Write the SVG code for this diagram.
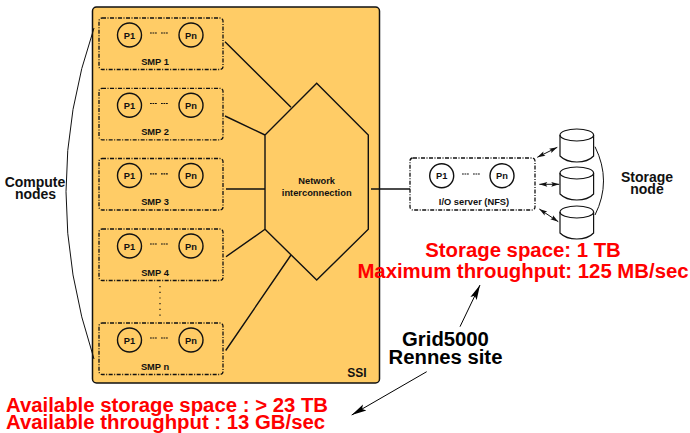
<svg xmlns="http://www.w3.org/2000/svg" width="690" height="433" viewBox="0 0 690 433">
<style>
text{font-family:"Liberation Sans",Arial,Helvetica,sans-serif;font-weight:bold;text-anchor:middle}
.s{font-size:9.3px;fill:#111}
.l{font-size:14px;fill:#111}
.r{font-size:20.35px;fill:#ff0000}
.k{font-size:20.3px;fill:#000}
.box{fill:none;stroke:#111;stroke-width:1.3;stroke-dasharray:4 1.5 1 1.5}
.cpu{fill:none;stroke:#111;stroke-width:1.4}
.dots{fill:none;stroke:#111;stroke-width:1.2;stroke-dasharray:1.8 .7}
.c{fill:none;stroke:#111;stroke-width:1.4}
.t{fill:none;stroke:#111;stroke-width:1}
.d{fill:none;stroke:#111;stroke-width:1;marker-start:url(#h2);marker-end:url(#h)}
.cyl{fill:none;stroke:#111;stroke-width:1.2}
</style>
<defs>
<marker id="h" markerUnits="userSpaceOnUse" markerWidth="10" markerHeight="8" refX="8" refY="4" orient="auto"><path d="M0 1.6L8 4 0 6.4 1.5 4z" fill="#111"/></marker>
<marker id="h2" markerUnits="userSpaceOnUse" markerWidth="10" markerHeight="8" refX="0" refY="4" orient="auto"><path d="M8 1.6L0 4 8 6.4 6.5 4z" fill="#111"/></marker>
<marker id="b" markerUnits="userSpaceOnUse" markerWidth="16" markerHeight="10" refX="15" refY="5" orient="auto"><path d="M0 1.5L15 5 0 8.5 3 5z" fill="#000"/></marker>
<g id="cylshape"><ellipse cx="576.8" cy="0" rx="16.8" ry="6"/><path d="M560 0V21Q566 27 576.8 27 588 27 593.6 21V0"/></g>
</defs>
<g id="ssi">
<rect x="92.5" y="7" width="287" height="376" rx="4" fill="#ffcc66" stroke="#111" stroke-width="1.5"/>
<text class="s" x="357" y="376.5" style="font-size:12px">SSI</text>
</g>
<g id="connectors">
<path class="c" d="M225 41.7L291 107.3M225 116L265 135M226 189H265M226 256.7L265 229.3M291 255L225.7 350.5M371 189H410"/>
<path class="t" d="M94 28Q38 190 94 359"/>
<path class="t" d="M595 146.7Q612 181 595 215"/>
<path class="d" d="M537.3 157.3L557.3 147.3"/>
<path class="d" d="M539.3 184.3H559.3"/>
<path class="d" d="M539.3 209L558.3 221.7"/>
<path class="dots" d="M160 286V320" style="stroke-dasharray:1.2 4.5"/>
<path d="M460 326.7L480 285" fill="none" stroke="#000" marker-end="url(#b)"/>
<path d="M426.7 371.7L351.7 415" fill="none" stroke="#000" marker-end="url(#b)"/>
</g>
<g id="smp1"><rect class="box" x="99" y="18" width="124" height="51.5" rx="3"/><circle class="cpu" cx="129.5" cy="35" r="12"/><circle class="cpu" cx="191" cy="35" r="12"/><path class="dots" d="M150 33H157M161 33H168"/><text class="s" x="129.5" y="38.5">P1</text><text class="s" x="191" y="38.5">Pn</text><text class="s" x="155" y="65">SMP 1</text></g>
<g id="smp2"><rect class="box" x="99" y="88.3" width="124" height="51.5" rx="3"/><circle class="cpu" cx="129.5" cy="105.3" r="12"/><circle class="cpu" cx="191" cy="105.3" r="12"/><path class="dots" d="M150 103.5H157M161 103.5H168"/><text class="s" x="129.5" y="108.8">P1</text><text class="s" x="191" y="108.8">Pn</text><text class="s" x="155" y="135">SMP 2</text></g>
<g id="smp3"><rect class="box" x="99" y="158.5" width="124" height="51.5" rx="3"/><circle class="cpu" cx="129.5" cy="175.5" r="12"/><circle class="cpu" cx="191" cy="175.5" r="12"/><path class="dots" d="M150 173.8H157M161 173.8H168"/><text class="s" x="129.5" y="179">P1</text><text class="s" x="191" y="179">Pn</text><text class="s" x="155" y="205">SMP 3</text></g>
<g id="smp4"><rect class="box" x="99" y="229" width="124" height="51.5" rx="3"/><circle class="cpu" cx="129.5" cy="246" r="12"/><circle class="cpu" cx="191" cy="246" r="12"/><path class="dots" d="M150 244H157M161 244H168"/><text class="s" x="129.5" y="249.5">P1</text><text class="s" x="191" y="249.5">Pn</text><text class="s" x="155" y="276">SMP 4</text></g>
<g id="smpn"><rect class="box" x="99" y="323" width="124" height="51.5" rx="3"/><circle class="cpu" cx="129.5" cy="340" r="12"/><circle class="cpu" cx="191" cy="340" r="12"/><path class="dots" d="M150 338H157M161 338H168"/><text class="s" x="129.5" y="343.5">P1</text><text class="s" x="191" y="343.5">Pn</text><text class="s" x="155" y="370">SMP n</text></g>
<g id="network">
<path class="c" d="M316.7 83.3L368.3 135V229.3L316.7 280 265 229.3V135z"/>
<text class="s" x="316.7" y="184">Network</text>
<text class="s" x="316.7" y="195.7">interconnection</text>
</g>
<g id="io-server"><rect class="box" x="410" y="158" width="125" height="52" rx="3"/><circle class="cpu" cx="441.7" cy="175.7" r="12"/><circle class="cpu" cx="502" cy="175.7" r="12"/><path class="dots" d="M462 174H469M473 174H480"/><text class="s" x="441.7" y="179.2">P1</text><text class="s" x="502" y="179.2">Pn</text><text class="s" x="474" y="205">I/O server (NFS)</text></g>
<g id="storage1" class="cyl"><use href="#cylshape" y="135"/></g>
<g id="storage2" class="cyl"><use href="#cylshape" y="173"/></g>
<g id="storage3" class="cyl"><use href="#cylshape" y="212"/></g>
<g id="labels">
<text class="l" x="35" y="187">Compute</text>
<text class="l" x="35.5" y="198.5">nodes</text>
<text class="l" x="647" y="182">Storage</text>
<text class="l" x="647" y="194">node</text>
<text class="r" x="523" y="257">Storage space: 1 TB</text>
<text class="r" x="523" y="278">Maximum throughput: 125 MB/sec</text>
<text class="k" x="445.5" y="345.5">Grid5000</text>
<text class="k" x="445.5" y="364">Rennes site</text>
<text class="r" x="6" y="412" style="text-anchor:start">Available storage space : &gt; 23 TB</text>
<text class="r" x="6" y="429" style="text-anchor:start">Available throughput : 13 GB/sec</text>
</g>
</svg>
